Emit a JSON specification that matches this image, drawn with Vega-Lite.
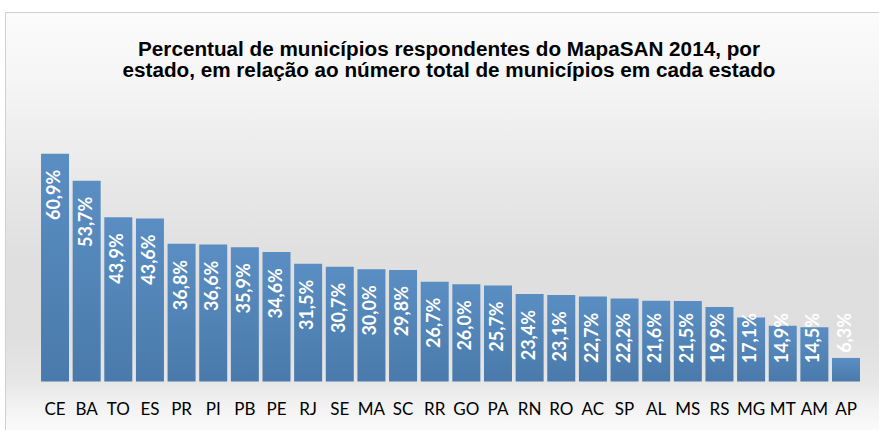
{
  "$schema": "https://vega.github.io/schema/vega-lite/v6.json",
  "width": 874,
  "height": 418,
  "autosize": {"type": "none"},
  "padding": {"left": 5, "top": 12, "right": 0, "bottom": 0},
  "background": "white",
  "config": {
    "locale": {"number": {"decimal": ",", "thousands": ".", "grouping": [3], "currency": ["R$", ""]}},
    "view": {
      "stroke": "#d0d0d0",
      "strokeWidth": 1,
      "fill": {
        "gradient": "linear", "x1": 0, "y1": 0, "x2": 0, "y2": 1,
        "stops": [
          {"offset": 0, "color": "#fbfbfb"},
          {"offset": 0.15, "color": "#f6f6f6"},
          {"offset": 0.33, "color": "#ececec"},
          {"offset": 0.57, "color": "#e0e0e0"},
          {"offset": 0.76, "color": "#dedede"},
          {"offset": 0.88, "color": "#e6e6e6"},
          {"offset": 0.93, "color": "#f0f0f0"},
          {"offset": 1, "color": "#fbfbfb"}
        ]
      }
    }
  },
  "title": {
    "text": ["Percentual de municípios respondentes do MapaSAN 2014, por", "estado, em relação ao número total de municípios em cada estado"],
    "font": "Liberation Sans",
    "fontSize": 20.7,
    "fontWeight": "bold",
    "color": "#000000",
    "anchor": "middle",
    "frame": "group",
    "offset": -70,
    "lineHeight": 21,
    "dx": 7
  },
  "data": {
    "values": [
      {"uf": "CE", "v": 0.609},
      {"uf": "BA", "v": 0.537},
      {"uf": "TO", "v": 0.439},
      {"uf": "ES", "v": 0.436},
      {"uf": "PR", "v": 0.368},
      {"uf": "PI", "v": 0.366},
      {"uf": "PB", "v": 0.359},
      {"uf": "PE", "v": 0.346},
      {"uf": "RJ", "v": 0.315},
      {"uf": "SE", "v": 0.307},
      {"uf": "MA", "v": 0.300},
      {"uf": "SC", "v": 0.298},
      {"uf": "RR", "v": 0.267},
      {"uf": "GO", "v": 0.260},
      {"uf": "PA", "v": 0.257},
      {"uf": "RN", "v": 0.234},
      {"uf": "RO", "v": 0.231},
      {"uf": "AC", "v": 0.227},
      {"uf": "SP", "v": 0.222},
      {"uf": "AL", "v": 0.216},
      {"uf": "MS", "v": 0.215},
      {"uf": "RS", "v": 0.199},
      {"uf": "MG", "v": 0.171},
      {"uf": "MT", "v": 0.149},
      {"uf": "AM", "v": 0.145},
      {"uf": "AP", "v": 0.063}
    ]
  },
  "encoding": {
    "x": {
      "field": "uf",
      "type": "nominal",
      "sort": null,
      "scale": {"paddingInner": 0.115, "paddingOuter": 0.869, "align": 0.655},
      "axis": {
        "orient": "bottom",
        "offset": -20.5,
        "domain": false,
        "ticks": false,
        "grid": false,
        "labelPadding": 0,
        "labelBaseline": "middle",
        "labelAngle": 0,
        "labelFont": "Lato",
        "labelFontSize": 17,
        "labelColor": "#000000",
        "title": null
      }
    }
  },
  "layer": [
    {
      "mark": {
        "type": "bar",
        "fill": {
          "gradient": "linear", "x1": 0, "y1": 0, "x2": 0, "y2": 1,
          "stops": [
            {"offset": 0, "color": "#5a8ec3"},
            {"offset": 1, "color": "#4a7aab"}
          ]
        }
      },
      "encoding": {
        "y": {
          "field": "v",
          "type": "quantitative",
          "scale": {"domain": [-0.1297, 0.988], "nice": false, "zero": false},
          "axis": null
        },
        "y2": {"datum": 0}
      }
    },
    {
      "mark": {
        "type": "text",
        "angle": 270,
        "align": "right",
        "baseline": "middle",
        "dx": -16,
        "font": "Lato",
        "fontSize": 18,
        "fontWeight": "bold",
        "fill": "#ffffff"
      },
      "encoding": {
        "y": {
          "field": "v",
          "type": "quantitative",
          "scale": {"domain": [0.226, 0.988], "range": [285, 0], "clamp": true, "nice": false, "zero": false},
          "axis": null
        },
        "text": {"field": "v", "type": "quantitative", "format": ".1%"}
      }
    }
  ],
  "resolve": {"scale": {"y": "independent"}}
}
